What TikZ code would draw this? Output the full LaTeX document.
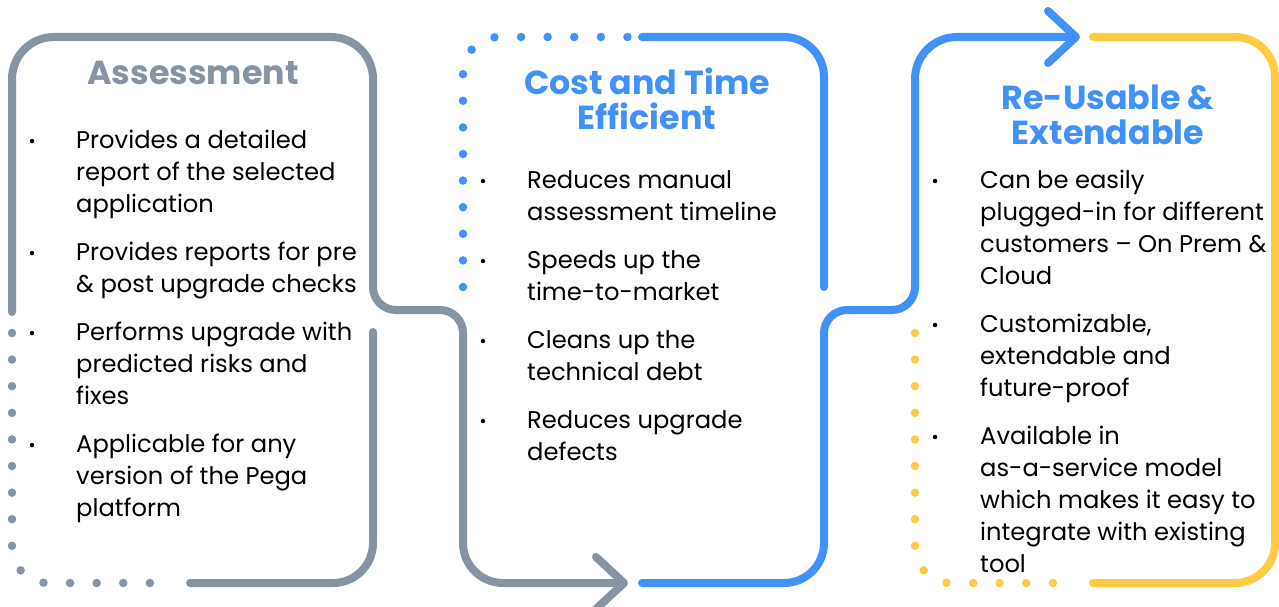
\documentclass[tikz,border=0pt]{standalone}
\usepackage{fontspec}
\setmainfont{Poppins}
\usetikzlibrary{arrows.meta}
\definecolor{pegagray}{HTML}{8593A2}
\definecolor{pegablue}{HTML}{4192F8}
\definecolor{pegayellow}{HTML}{FFCB43}

\begin{document}
\begin{tikzpicture}[x=1pt, y=-1pt,
    solidline/.style={line width=8pt, line cap=round, line join=round},
    dotline/.style={line width=8.5pt, line cap=round, dash pattern=on 0pt off 26.6pt, rounded corners=36pt},
    chevron/.style={-{Straight Barb[length=28pt, width=52pt, round]}},
    title/.style={font=\fontsize{33.3}{35}\selectfont\bfseries, align=center, anchor=base},
    item/.style={font=\fontsize{24.2}{32}\selectfont, align=left, anchor=base west, inner sep=0pt},
    bullet/.style={circle, fill=black, inner sep=0pt, minimum size=4.5pt}]
  \useasboundingbox (0,0) rectangle (1279,607);

  % serpentine band
  \draw[solidline, pegagray, chevron] (12,312) [rounded corners=42pt] -- (12,37) -- (373,37)
    [rounded corners=23pt] -- (373,310) -- (463,310) [rounded corners=40pt] -- (463,583) -- (628,583);
  \draw[solidline, pegagray] (373,332) [rounded corners=40pt] -- (373,583) -- (190,583);
  \draw[dotline, pegagray] (12,333) -- (12,583) -- (160,583);

  \draw[solidline, pegablue, chevron] (642,583) [rounded corners=40pt] -- (824,583)
    [rounded corners=23pt] -- (824,310) -- (915,310) [rounded corners=42pt] -- (915,37) -- (1080,37);
  \draw[solidline, pegablue] (824,287) [rounded corners=40pt] -- (824,37) -- (642,37);
  \draw[dotline, pegablue] (463,287) -- (463,37) -- (630,37);

  \draw[solidline, pegayellow] (1093,37) [rounded corners=40pt] -- (1275,37) -- (1275,583) -- (1093,583);
  \draw[dotline, pegayellow] (915,333) -- (915,583) -- (1060,583);

  % titles (placed at the baseline of their last line)
  \node[title, pegagray] (assess) at (193,85) {Assessment};
  \node[title, pegablue] (cost) at (647,129) {Cost and Time\\Efficient};
  \node[title, pegablue] (reuse) at (1108,144) {Re-Usable \&\\Extendable};

  % points
  \node[item] (p1a) at (76,212) {Provides a detailed\\report of the selected\\application};
  \node[item] (p1b) at (76,292) {Provides reports for pre\\\& post upgrade checks};
  \node[item] (p1c) at (76,404) {Performs upgrade with\\predicted risks and\\fixes};
  \node[item] (p1d) at (76,516) {Applicable for any\\version of the Pega\\platform};

  \node[item] (p2a) at (527,220) {Reduces manual\\assessment timeline};
  \node[item] (p2b) at (527,300) {Speeds up the\\time-to-market};
  \node[item] (p2c) at (527,380) {Cleans up the\\technical debt};
  \node[item] (p2d) at (527,460) {Reduces upgrade\\defects};

  \node[item] (p3a) at (980,284) {Can be easily\\plugged-in for different\\customers – On Prem \&\\Cloud};
  \node[item] (p3b) at (980,396) {Customizable,\\extendable and\\future-proof};
  \node[item] (p3c) at (980,572) {Available in\\as-a-service model\\which makes it easy to\\integrate with existing\\tool};

  \foreach \x/\y [count=\i] in {32/141, 32/253, 32/333, 32/445, 483/181, 483/261, 483/341, 483/421,
      935/181, 935/325, 935/437}
    \node[bullet] (b\i) at (\x,\y) {};
\end{tikzpicture}
\end{document}
